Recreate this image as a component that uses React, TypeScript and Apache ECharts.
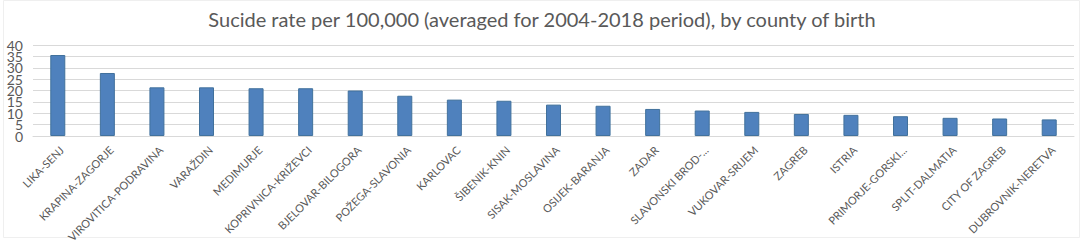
import React, { useEffect, useRef } from "react";
import * as echarts from "echarts";

const categories = [
  "LIKA-SENJ",
  "KRAPINA-ZAGORJE",
  "VIROVITICA-PODRAVINA",
  "VARAŽDIN",
  "MEDIMURJE",
  "KOPRIVNICA-KRIŽEVCI",
  "BJELOVAR-BILOGORA",
  "POŽEGA-SLAVONIA",
  "KARLOVAC",
  "ŠIBENIK-KNIN",
  "SISAK-MOSLAVINA",
  "OSIJEK-BARANJA",
  "ZADAR",
  "SLAVONSKI BROD-...",
  "VUKOVAR-SRIJEM",
  "ZAGREB",
  "ISTRIA",
  "PRIMORJE-GORSKI...",
  "SPLIT-DALMATIA",
  "CITY OF ZAGREB",
  "DUBROVNIK-NERETVA",
];

const rates = [
  35.6, 27.7, 21.4, 21.4, 21.0, 21.0, 20.0, 17.7, 16.0, 15.5, 13.8, 13.3, 11.9,
  11.2, 10.6, 9.7, 9.3, 8.7, 8.0, 7.7, 7.3,
];

const yMin = 0;
const yMax = 40;
const yStep = 5;
const yLabelsEven = [0, 10, 20, 30, 40];
const yLabelsOdd = [5, 15, 25, 35];

const titleText =
  "Sucide rate per 100,000 (averaged for 2004-2018 period), by county of birth";

const yLabelStyle = {
  fontSize: 14,
  color: "#595959",
  margin: 10,
  fontFamily: "Lato, sans-serif",
};

export default function App() {
  const ref = useRef<HTMLDivElement>(null);
  useEffect(() => {
    if (!ref.current) return;
    const chart = echarts.init(ref.current, undefined, { renderer: "svg" });
    chart.setOption({
      animation: false,
      backgroundColor: "#ffffff",
      textStyle: { fontFamily: "Lato, 'Open Sans', sans-serif" },
      title: {
        text: titleText,
        left: "center",
        top: 4,
        textStyle: {
          fontFamily: "Lato, sans-serif",
          fontSize: 20,
          fontWeight: "normal",
          color: "#595959",
        },
      },
      graphic: [
        {
          type: "rect",
          shape: { x: 3.5, y: 0.5, width: 1076, height: 237 },
          style: { fill: "none", stroke: "#efefef", lineWidth: 1 },
          silent: true,
          z: -1,
        },
      ],
      grid: { left: 33, right: 10, top: 45, bottom: 108, containLabel: false },
      xAxis: {
        type: "category",
        data: categories,
        axisLine: { lineStyle: { color: "#d9d9d9" } },
        axisTick: { show: false },
        axisLabel: {
          rotate: 45,
          interval: 0,
          margin: 8,
          fontSize: 11,
          verticalAlign: "top",
          color: "#595959",
          fontFamily: "Lato, sans-serif",
        },
      },
      yAxis: [
        {
          type: "value",
          position: "left",
          min: yMin,
          max: yMax,
          interval: yStep,
          axisLine: { show: false },
          axisTick: { show: false },
          splitLine: { lineStyle: { color: "#d9d9d9", width: 1 } },
          axisLabel: { ...yLabelStyle, customValues: yLabelsOdd },
        },
        {
          type: "value",
          position: "left",
          offset: 0,
          min: yMin,
          max: yMax,
          interval: yStep * 2,
          axisLine: { show: false },
          axisTick: { show: false },
          splitLine: { show: false },
          axisLabel: { ...yLabelStyle, customValues: yLabelsEven },
        },
      ],
      series: [
        {
          type: "bar",
          data: rates,
          barWidth: 15,
          itemStyle: {
            color: "#4f81bd",
            borderColor: "#41719c",
            borderWidth: 1,
          },
        },
      ],
    });
    return () => chart.dispose();
  }, []);
  return (
    <div
      ref={ref}
      style={{ position: "absolute", left: 0, top: 0, width: 1084, height: 245 }}
    />
  );
}
